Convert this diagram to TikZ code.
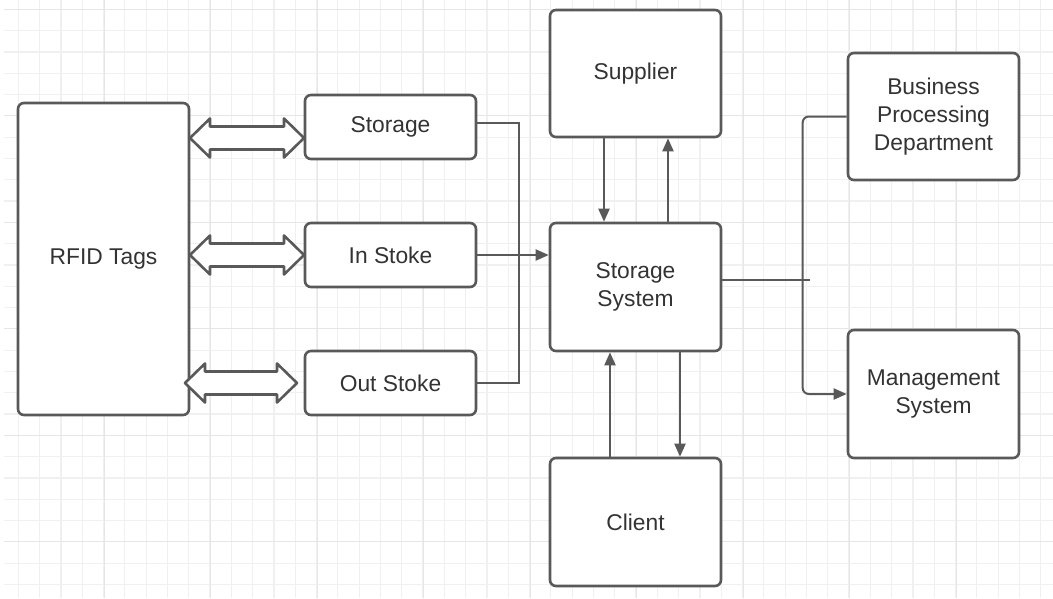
\documentclass[tikz,border=0pt]{standalone}
\usepackage{fontspec}
\setmainfont{Liberation Sans}
\usepackage{tikz}
\usetikzlibrary{arrows.meta,calc}
\definecolor{edge}{HTML}{595959}
\definecolor{ink}{HTML}{333333}
\definecolor{gridminor}{HTML}{F0F0F0}
\definecolor{gridmajor}{HTML}{E6E6E6}

\begin{document}
\begin{tikzpicture}[x=1pt,y=-1pt,
	block/.style={draw=edge, line width=2.6pt, rounded corners=6pt, fill=white, text=ink,
		align=center, inner sep=0pt, font=\fontsize{22.8}{28}\selectfont},
	wire/.style={draw=edge, line width=2pt},
	flow/.style={wire, -{Triangle[length=13pt,width=11pt]}},
	hollow/.style={draw=edge, line width=2.6pt, fill=white, line join=round}]
	
	\useasboundingbox (0,0) rectangle (1053,598);
	\fill[white] (0,0) rectangle (1053,598);
	
	\foreach \x in {18.3,39.6,...,1053}
		\draw[gridminor, line width=1.2pt] (\x,0) -- (\x,598);
	\foreach \y in {9.3,30.6,...,598}
		\draw[gridminor, line width=1.2pt] (4,\y) -- (1053,\y);
	\foreach \x in {104.3,210.8,...,1053}
		\draw[gridmajor, line width=1.3pt] (\x,0) -- (\x,598);
	\foreach \y in {9.3,115.8,...,598}
		\draw[gridmajor, line width=1.3pt] (4,\y) -- (1053,\y);
	
	\node[block, minimum width=171pt, minimum height=312pt] (rfid) at (103.5,259) {RFID Tags};
	\node[block, minimum width=171pt, minimum height=64pt] (storage) at (390.5,127) {Storage};
	\node[block, minimum width=171pt, minimum height=64pt] (instoke) at (390.5,255) {In Stoke};
	\node[block, minimum width=171pt, minimum height=64pt] (outstoke) at (390.5,383) {Out Stoke};
	\node[block, minimum width=171pt, minimum height=127pt] (supplier) at (635.5,73.5) {Supplier};
	\node[block, minimum width=171pt, minimum height=128pt] (system) at (635.5,287) {Storage\\System};
	\node[block, minimum width=171pt, minimum height=128pt] (client) at (635.5,522) {Client};
	\node[block, minimum width=171pt, minimum height=127pt] (business) at (933.5,116.5) {Business\\Processing\\Department};
	\node[block, minimum width=171pt, minimum height=128pt] (management) at (933.5,394) {Management\\System};
	
	\foreach \xa/\xb/\ya in {190/304/138, 190/304/255, 185/297/383}
		\draw[hollow] (\xa,\ya) -- ++(20,-19.5) -- ++(0,8) -- (\xb-20,\ya-11.5) -- ++(0,-8)
			-- (\xb,\ya) -- (\xb-20,\ya+19.5) -- ++(0,-8) -- (\xa+20,\ya+11.5) -- ++(0,8) -- cycle;
	
	\draw[wire] ([yshift=4pt]storage.east) -- ++(42,0) |- (outstoke.east);
	\draw[flow] (instoke.east) -- (instoke.east -| system.west);
	
	\draw[flow] ([xshift=-31.5pt]supplier.south) -- ([xshift=-31.5pt]system.north);
	\draw[flow] ([xshift=32.5pt]system.north) -- ([xshift=32.5pt]supplier.south);
	\draw[flow] ([xshift=-25.5pt]client.north) -- ([xshift=-25.5pt]system.south);
	\draw[flow] ([xshift=44.5pt]system.south) -- ([xshift=44.5pt]client.north);
	
	\coordinate (tap) at (810,280);
	\draw[wire] ([yshift=7pt]system.east) -- (tap);
	\draw[flow, rounded corners=6pt] (business.west) -- ++(-44,0) |- (management.west);
	
\end{tikzpicture}
\end{document}
